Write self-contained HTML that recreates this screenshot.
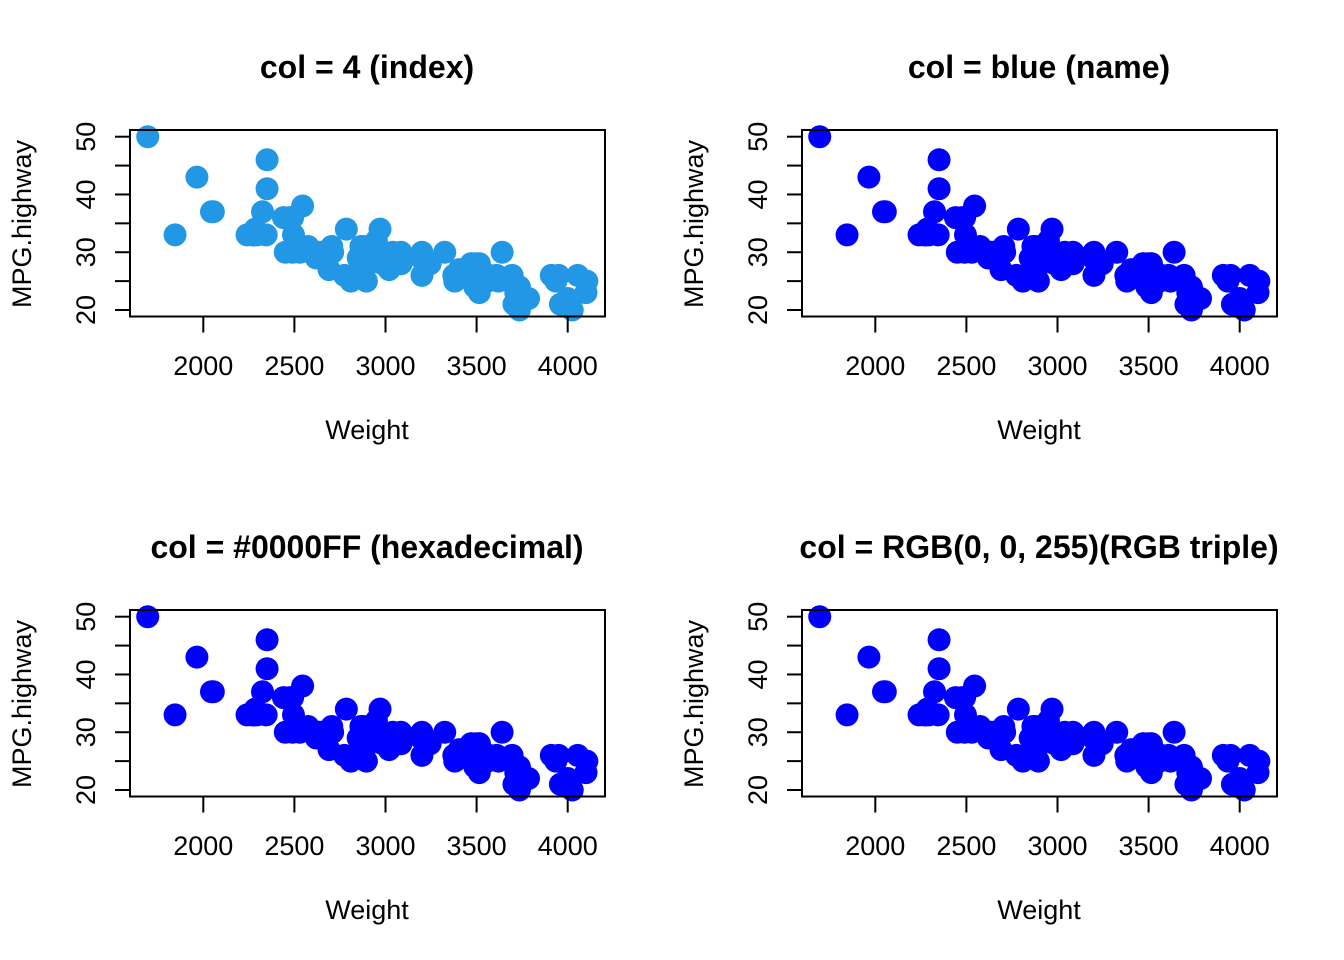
<!DOCTYPE html>
<html><head><meta charset="utf-8"><style>
html,body{margin:0;padding:0;background:#fff;}
svg{display:block;font-family:"Liberation Sans",Arial,sans-serif;}
</style></head><body>
<svg id="chart" width="1344" height="960" viewBox="0 0 1344 960"></svg>
<script>
const weights = [2705,3560,3375,3405,3640,2880,3470,4105,3495,3620,3935,2490,2785,3240,3195,3715,4025,3910,3380,3515,3085,3570,2270,2670,3020,3705,3405,3490,2275,3515,1845,2530,2690,2850,2710,3735,3325,3950,1695,2475,2865,2350,3040,2345,2620,2285,2885,4000,3510,3515,3695,4055,2325,2440,2970,3735,2895,2920,3525,2450,3610,2295,3730,2545,3200,4100,3200,2910,2890,4100,3470,2640,2350,2575,3240,3450,3495,2775,2495,2045,2490,3085,1965,2055,2950,3030,3785,2240,3960,2985,2810,2985,3245];
const mpgHighway = [31,25,26,26,30,31,28,25,27,25,25,36,34,28,29,23,20,26,25,28,28,26,33,29,27,21,27,24,33,28,33,30,27,29,30,20,30,26,50,36,31,46,30,33,29,34,27,22,24,23,26,26,37,36,34,24,25,29,25,30,26,33,24,38,30,23,26,31,28,23,28,30,41,31,28,27,28,26,33,37,30,30,43,37,32,29,22,33,21,30,25,28,28];
const xTicks = [2000,2500,3000,3500,4000];
const yTicks = [20,25,30,35,40,45,50];
const yLabels = [20,30,40,50];
const panelTitles = ["col = 4 (index)","col = blue (name)","col = #0000FF (hexadecimal)","col = RGB(0, 0, 255)(RGB triple)"];
const panelColors = ["#2297E6","#0000FF","#0000FF","#0000FF"];

const NS="http://www.w3.org/2000/svg";
const svg=document.getElementById('chart');
function mk(tag,attrs,parent){const e=document.createElementNS(NS,tag);for(const k in attrs)e.setAttribute(k,attrs[k]);parent.appendChild(e);return e;}

const offsets=[[0,0],[672,0],[0,480],[672,480]];
panelTitles.forEach((title,i)=>{
  const [ox,oy]=offsets[i];
  const g=mk('g',{transform:`translate(${ox},${oy})`},svg);
  
  
  const L=130,R=605,T=130,B=316.5;
  const xs=v=>203.3+(v-2000)*0.1822;
  const ys=v=>310+(v-20)*(136.7-310)/30;
  const t=mk('text',{x:367,y:78,'text-anchor':'middle','font-size':32,'font-weight':'bold',fill:'#000'},g);
  t.textContent=title;
  
  
  const pts=mk('g',{fill:panelColors[i]},g);
  
  
  weights.forEach((w,j)=>{
    const c=mk('circle',{cx:xs(w),cy:ys(mpgHighway[j]),r:11.5},pts);
    
    
  });
  const box=mk('rect',{x:L,y:T,width:R-L,height:B-T,fill:'none',stroke:'#000','stroke-width':2},g);
  
  
  const xa=mk('g',{},g);
  
  
  mk('line',{x1:xs(xTicks[0]),x2:xs(xTicks[xTicks.length-1]),y1:B,y2:B,stroke:'#000','stroke-width':2},xa);
  xTicks.forEach(v=>{
    mk('line',{x1:xs(v),x2:xs(v),y1:B,y2:B+16,stroke:'#000','stroke-width':2},xa);
    const tx=mk('text',{x:xs(v),y:375,'text-anchor':'middle','font-size':27,fill:'#000'},xa);
    tx.textContent=v;
    
    
  });
  const ya=mk('g',{},g);
  
  
  mk('line',{x1:L,x2:L,y1:ys(20),y2:ys(50),stroke:'#000','stroke-width':2},ya);
  yTicks.forEach(v=>{
    mk('line',{x1:L-15,x2:L,y1:ys(v),y2:ys(v),stroke:'#000','stroke-width':2},ya);
  });
  yLabels.forEach(v=>{
    const ty=mk('text',{x:0,y:0,transform:`translate(95,${ys(v)}) rotate(-90)`,'text-anchor':'middle','font-size':27,fill:'#000'},ya);
    ty.textContent=v;
    
    
  });
  const xl=mk('text',{x:367,y:439,'text-anchor':'middle','font-size':27,fill:'#000'},g);
  xl.textContent='Weight';
  
  
  const yl=mk('text',{x:0,y:0,transform:'translate(31,224) rotate(-90)','text-anchor':'middle','font-size':27,fill:'#000'},g);
  yl.textContent='MPG.highway';
  
  
});
</script>
</body></html>
